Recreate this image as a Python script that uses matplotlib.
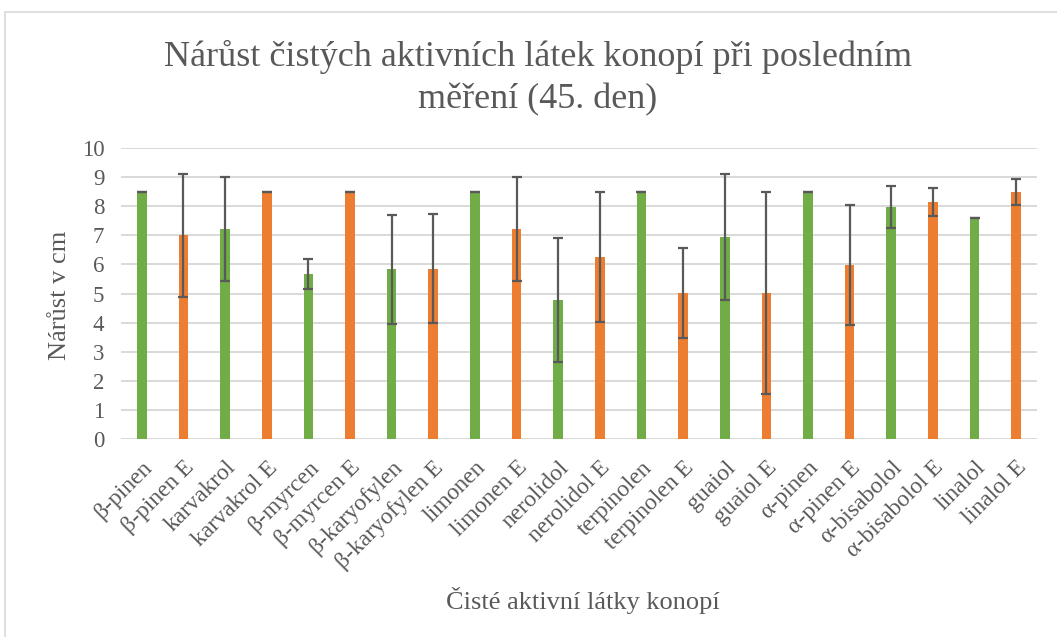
import matplotlib
matplotlib.use("Agg")
import matplotlib.pyplot as plt
import numpy as np
from matplotlib.patches import Rectangle

# ---------------------------------------------------------------------
# Data
# ---------------------------------------------------------------------

LABELS = [
    "β-pinen", "β-pinen E", "karvakrol", "karvakrol E", "β-myrcen",
    "β-myrcen E", "β-karyofylen", "β-karyofylen E", "limonen", "limonen E",
    "nerolidol", "nerolidol E", "terpinolen", "terpinolen E", "guaiol",
    "guaiol E", "α-pinen", "α-pinen E", "α-bisabolol", "α-bisabolol E",
    "linalol", "linalol E",
]

VALUES = [
    8.5, 7.0, 7.22, 8.5, 5.67,
    8.5, 5.83, 5.85, 8.5, 7.22,
    4.78, 6.26, 8.5, 5.02, 6.95,
    5.02, 8.5, 5.98, 7.97, 8.15,
    7.58, 8.5,
]

ERRORS = [
    0.0, 2.12, 1.79, 0.0, 0.51,
    0.0, 1.87, 1.88, 0.0, 1.79,
    2.12, 2.24, 0.0, 1.55, 2.17,
    3.48, 0.0, 2.05, 0.71, 0.47,
    0.0, 0.45,
]

TITLE_1 = "Nárůst čistých aktivních látek konopí při posledním"
TITLE_2 = "měření (45. den)"
Y_LABEL = "Nárůst v cm"
X_LABEL = "Čisté aktivní látky konopí"

GREEN = "#70AD47"
ORANGE = "#ED7D31"
TEXT = "#595959"
GRID = "#D9D9D9"

plt.rcParams["font.family"] = ["Liberation Serif", "DejaVu Serif"]

# ---------------------------------------------------------------------
# Plot
# ---------------------------------------------------------------------

W, H = 1057, 637
fig = plt.figure(figsize=(W / 100, H / 100), dpi=100)

# outer chart border (runs off the right/bottom edge like the screenshot)
fig.patches.append(Rectangle((5 / W, -0.1), 1.2, 1.1 - 12 / H,
                             transform=fig.transFigure, fill=False,
                             edgecolor=GRID, linewidth=1.2))

ax = fig.add_axes([121 / W, (H - 439) / H, 916 / W, 291 / H])

x = np.arange(len(LABELS))
colors = [GREEN if i % 2 == 0 else ORANGE for i in range(len(LABELS))]

ax.bar(x, VALUES, width=0.23, color=colors, zorder=3)
ax.errorbar(x, VALUES, yerr=ERRORS, fmt="none", ecolor=TEXT,
            elinewidth=1.6, capsize=3.8, capthick=1.6, zorder=4)

ax.set_xlim(-0.5, len(LABELS) - 0.5)
ax.set_ylim(0, 10)
ax.set_yticks(range(0, 11))
ax.yaxis.grid(True, color=GRID, linewidth=1.4, zorder=0)
ax.set_axisbelow(True)
for s in ax.spines.values():
    s.set_visible(False)

ax.tick_params(axis="both", length=0, labelcolor=TEXT)
ax.tick_params(axis="y", labelsize=16.5, pad=12)
ax.set_xticks(x)
ax.set_xticklabels(LABELS, rotation=45, ha="right", va="top",
                   rotation_mode="anchor")
ax.tick_params(axis="x", labelsize=17, pad=13)

fig.text(538 / W, 1 - 66 / H, TITLE_1, ha="center", va="baseline",
         fontsize=26, color=TEXT)
fig.text(538 / W, 1 - 108 / H, TITLE_2, ha="center", va="baseline",
         fontsize=26, color=TEXT)
fig.text(60 / W, 1 - 295 / H, Y_LABEL, rotation=90,
         ha="center", va="center", fontsize=19, color=TEXT)
fig.text(583 / W, 1 - 600 / H, X_LABEL,
         ha="center", va="center", fontsize=19, color=TEXT)

fig.savefig("out.png", dpi=100)
